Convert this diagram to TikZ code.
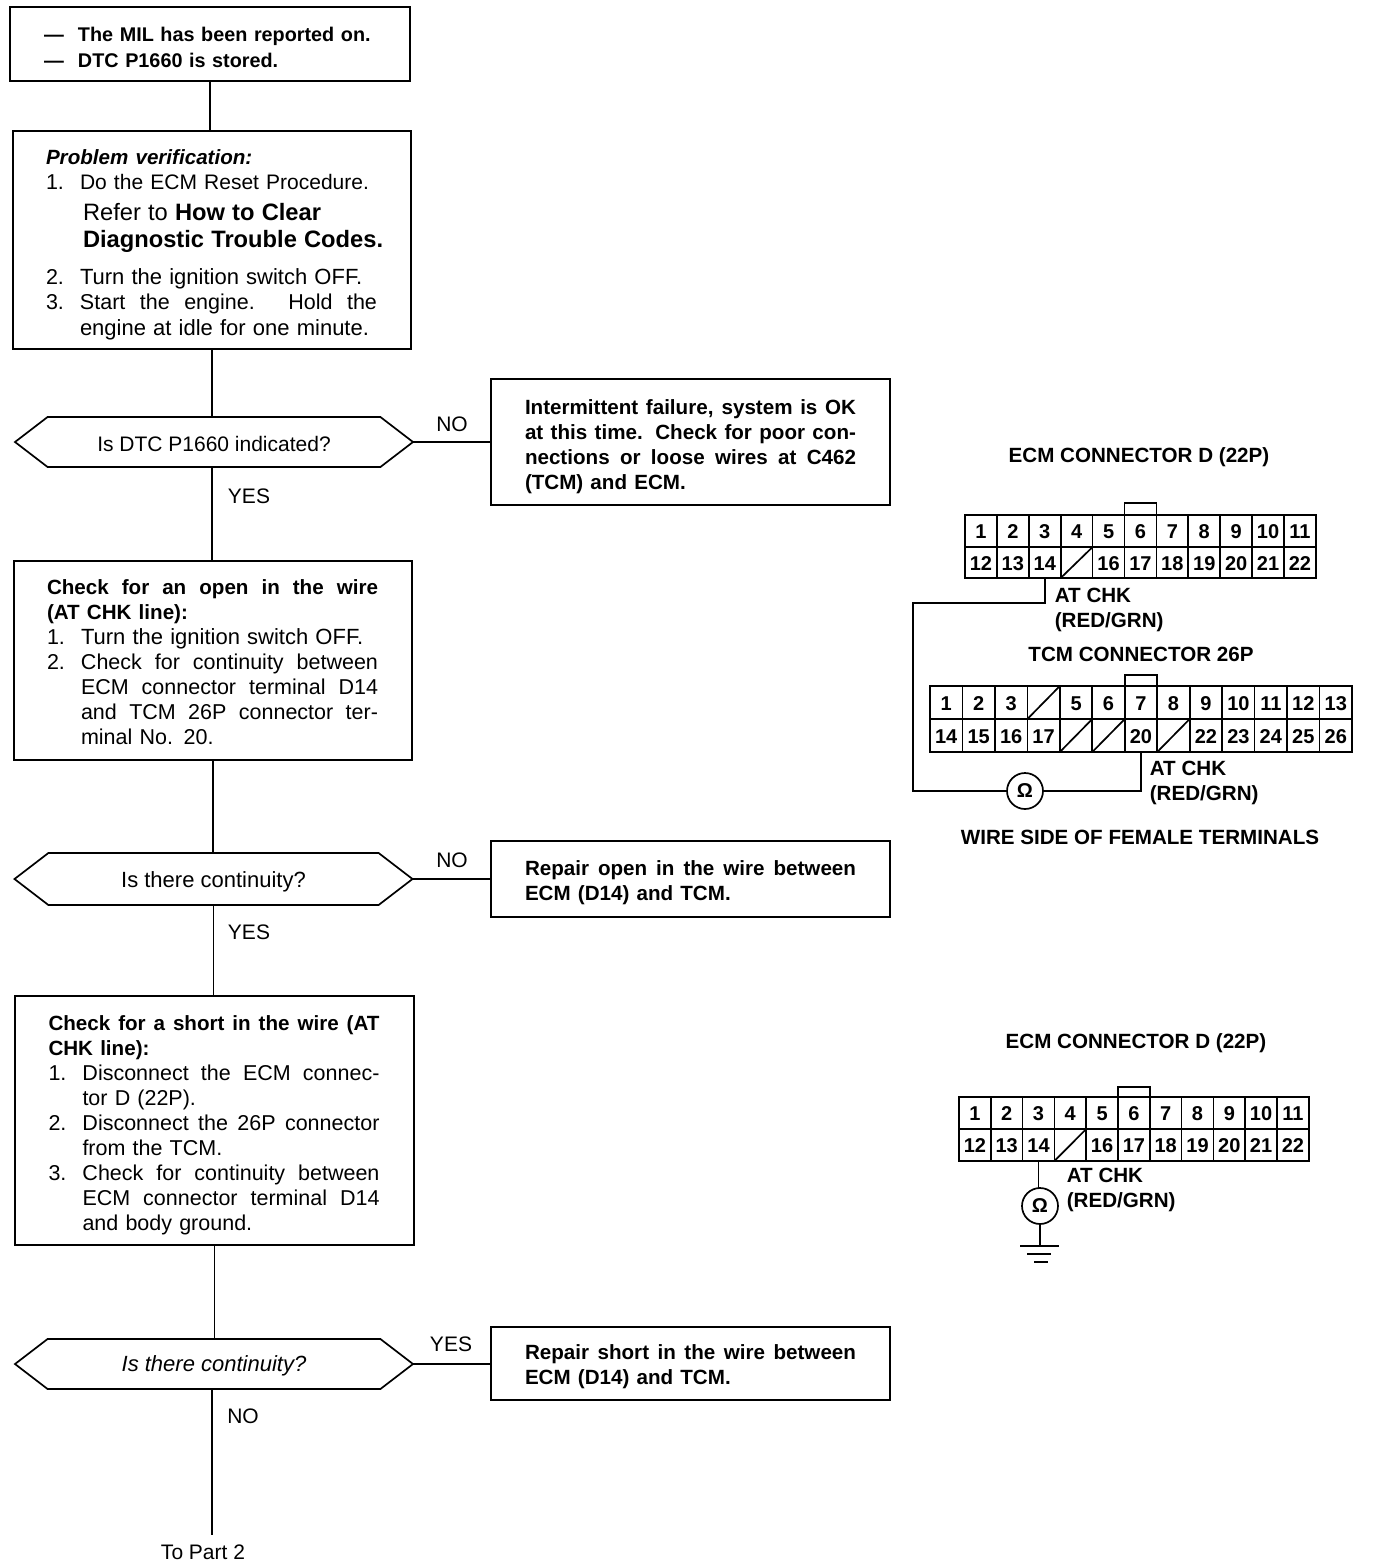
\documentclass[tikz,border=0pt]{standalone}
\usepackage{fontspec}
\setmainfont{Liberation Sans}
\usetikzlibrary{positioning,shapes.symbols}

\newcommand{\stline}[2]{\makebox[#1pt][s]{\spaceskip=0pt\xspaceskip=0pt #2}}
\newcommand{\numline}[1]{\makebox[34pt][l]{#1}}
\newcommand{\topgap}[1]{\rule{0pt}{#1pt}}
\newcommand{\flowbold}{\bfseries\fontsize{20.6}{25}\selectfont}
\newcommand{\flowreg}{\mdseries\fontsize{21.5}{25}\selectfont}
\newcommand{\pinrow}[6]{%
    \foreach \lab [count=\i] in {#6} {
        \node[pincell, minimum width=#4pt, minimum height=#5pt] (#1\i) at ({#2+(\i-0.5)*#4},#3) {\lab};
    }%
}

\tikzset{
    flowbox/.style={draw, rectangle, inner sep=0pt, outer sep=0pt, align=left, font=\fontsize{21.5}{25}\selectfont},
    decision/.style={draw, signal, signal to=east and west, signal pointer angle=75, text height=19.5pt, text depth=4pt,
        inner sep=0pt, outer sep=0pt, minimum width=398pt, minimum height=50pt, font=\fontsize{22}{25}\selectfont},
    flowlabel/.style={inner sep=0pt, font=\fontsize{21}{25}\selectfont},
    pincell/.style={draw, rectangle, inner sep=0pt, outer sep=0pt, text height=15.5pt, text depth=0pt, font=\bfseries\fontsize{20}{20}\selectfont},
    conntitle/.style={inner sep=0pt, font=\bfseries\fontsize{20.6}{25}\selectfont},
    wirelabel/.style={inner sep=0pt, align=left, anchor=west, font=\bfseries\fontsize{20.6}{25}\selectfont},
    meter/.style={draw, circle, inner sep=0pt, outer sep=0pt, minimum size=36pt, font=\bfseries\fontsize{20}{20}\selectfont},
}

\begin{document}
\begin{tikzpicture}[x=1pt, y=-1pt, line width=1.7pt]
    \useasboundingbox (0,0) rectangle (1376,1564);

    \node[flowbox, minimum width=400pt, minimum height=74pt, text width=332pt, font=\bfseries\fontsize{19.8}{26}\selectfont] (mil) at (210,44)
        {\topgap{22}\numline{---}The MIL has been reported on.\\\numline{---}DTC P1660 is stored.};
    \node[flowbox, minimum width=398pt, minimum height=218pt, text width=332pt] (verify) at (212,240)
        {\topgap{25}{\bfseries\itshape\fontsize{20.6}{25}\selectfont Problem verification:}\\
        \numline{1.}{\fontsize{21}{25}\selectfont Do the ECM Reset Procedure.}\\[6pt]
        \numline{}\hspace{3pt}{\fontsize{23.7}{27}\selectfont Refer to \textbf{How to Clear}}\\[2pt]
        \mbox{\numline{}\hspace{3pt}{\fontsize{23.7}{27}\selectfont\textbf{Diagnostic Trouble Codes.}}}\\[12pt]
        \numline{2.}{\fontsize{22}{25}\selectfont Turn the ignition switch OFF.}\\
        \numline{3.}\stline{297}{Start the engine. Hold the}\\[1pt]
        \numline{}{\fontsize{22}{25}\selectfont engine at idle for one minute.}};
    \node[decision, font=\fontsize{21}{25}\selectfont, text height=23pt] (dtcq) at (214,442) {Is DTC P1660 indicated?};
    \node[flowbox, minimum width=399pt, minimum height=126pt, text width=331pt] (intermittent) at (690.5,442)
        {\topgap{24}\flowbold\stline{331}{Intermittent failure, system is OK}\\
        \stline{331}{at this time. Check for poor con-}\\
        \stline{331}{nections or loose wires at C462}\\
        (TCM) and ECM.};
    \node[flowbox, minimum width=398pt, minimum height=199pt, text width=332pt] (openchk) at (213,660.5)
        {\topgap{18}\flowbold\stline{331}{Check for an open in the wire}\\
        (AT CHK line):\\
        \flowreg\numline{1.}{\fontsize{22}{25}\selectfont Turn the ignition switch OFF.}\\
        \numline{2.}\stline{297}{Check for continuity between}\\
        \numline{}\stline{297}{ECM connector terminal D14}\\
        \numline{}\stline{297}{and TCM 26P connector ter-}\\
        \numline{}minal No. 20.};
    \node[decision, minimum height=52pt, text height=21pt] (contq) at (213.5,879) {Is there continuity?};
    \node[flowbox, minimum width=399pt, minimum height=76pt, text width=331pt] (repairopen) at (690.5,879)
        {\topgap{23}\flowbold\stline{331}{Repair open in the wire between}\\ECM (D14) and TCM.};
    \node[flowbox, minimum width=399pt, minimum height=249pt, text width=332pt] (shortchk) at (214.5,1120.5)
        {\topgap{25}\flowbold\stline{331}{Check for a short in the wire (AT}\\
        CHK line):\\
        \flowreg\numline{1.}\stline{297}{Disconnect the ECM connec-}\\
        \numline{}tor D (22P).\\
        \numline{2.}\stline{297}{Disconnect the 26P connector}\\
        \numline{}from the TCM.\\
        \numline{3.}\stline{297}{Check for continuity between}\\
        \numline{}\stline{297}{ECM connector terminal D14}\\
        \numline{}and body ground.};
    \node[decision, font=\itshape\fontsize{22}{25}\selectfont] (shortq) at (214,1364) {Is there continuity?};
    \node[flowbox, minimum width=399pt, minimum height=73pt, text width=331pt] (repairshort) at (690.5,1363.5)
        {\topgap{21}\flowbold\stline{331}{Repair short in the wire between}\\ECM (D14) and TCM.};
    \node[flowlabel] (topart) at (203,1552) {To Part 2};

    \draw (mil.south) -- (mil.south |- verify.north);
    \draw (verify.south) -- (verify.south |- dtcq.north);
    \draw (verify.south |- dtcq.south) -- (verify.south |- openchk.north);
    \draw (openchk.south) -- (openchk.south |- contq.north);
    \draw (contq.south) -- (contq.south |- shortchk.north);
    \draw (shortchk.south) -- (shortchk.south |- shortq.north);
    \coordinate (partend) at (212,1535);
    \draw (partend |- shortq.south) -- (partend);
    \draw (dtcq.east) -- (intermittent.west);
    \draw (contq.east) -- (repairopen.west);
    \draw (shortq.east) -- (shortq.east -| repairshort.west);

    \node[flowlabel] (no1) at (452,424) {NO};
    \node[flowlabel] (yes1) at (249,496) {YES};
    \node[flowlabel] (no2) at (452,860) {NO};
    \node[flowlabel] (yes2) at (249,932) {YES};
    \node[flowlabel] (yes3) at (451,1344) {YES};
    \node[flowlabel] (no3) at (243,1416) {NO};

    \node[conntitle] (ecmtitle) at (1139,457) {ECM CONNECTOR D (22P)};
    \pinrow{ecmt}{965}{531}{31.9}{32}{1,2,3,4,5,6,7,8,9,10,11}
    \pinrow{ecmb}{965}{562.5}{31.9}{31}{12,13,14,,16,17,18,19,20,21,22}
    \node[pincell, minimum width=32pt, minimum height=12pt, text height=0pt, anchor=south] (ecmtab) at (ecmt6.north) {};
    \draw (ecmb4.south west) -- (ecmb4.north east);

    \node[conntitle] (tcmtitle) at (1141,654) {TCM CONNECTOR 26P};
    \pinrow{tcmt}{930}{702.5}{32.46}{33}{1,2,3,,5,6,7,8,9,10,11,12,13}
    \pinrow{tcmb}{930}{735.5}{32.46}{33}{14,15,16,17,,,20,,22,23,24,25,26}
    \node[pincell, minimum width=32pt, minimum height=11pt, text height=0pt, anchor=south] (tcmtab) at (tcmt7.north) {};
    \draw (tcmt4.south west) -- (tcmt4.north east);
    \draw (tcmb5.south west) -- (tcmb5.north east);
    \draw (tcmb6.south west) -- (tcmb6.north east);
    \draw (tcmb8.south west) -- (tcmb8.north east);

    \node[meter] (ohmtop) at (1025,791) {Ω};
    \coordinate (wirecorner) at (913,603);
    \draw (ecmb3.south) |- (wirecorner) |- (ohmtop.west);
    \draw (ohmtop.east) -| (tcmb7.south);
    \node[wirelabel] (chktop) at (1054,610) {AT CHK\\(RED/GRN)};
    \node[wirelabel] (chkmid) at (1149,782.5) {AT CHK\\(RED/GRN)};
    \node[conntitle] (wireside) at (1140,837) {WIRE SIDE OF FEMALE TERMINALS};

    \node[conntitle] (ecmtitle2) at (1136,1043) {ECM CONNECTOR D (22P)};
    \pinrow{gndt}{959}{1113}{31.8}{32}{1,2,3,4,5,6,7,8,9,10,11}
    \pinrow{gndb}{959}{1145}{31.8}{32}{12,13,14,,16,17,18,19,20,21,22}
    \node[pincell, minimum width=32pt, minimum height=10pt, text height=0pt, anchor=south] (gndtab) at (gndt6.north) {};
    \draw (gndb4.south west) -- (gndb4.north east);
    \node[meter] (ohmgnd) at (1040,1206) {Ω};
    \draw (gndb3.south) -- (gndb3.south |- ohmgnd.north);
    \coordinate (gndpt) at (1040,1246);
    \draw (ohmgnd.south) -- (gndpt);
    \draw ([xshift=-20pt] gndpt) -- ([xshift=19pt] gndpt);
    \draw ([xshift=-13pt, yshift=-8pt] gndpt) -- ([xshift=11pt, yshift=-8pt] gndpt);
    \draw ([xshift=-6pt, yshift=-16pt] gndpt) -- ([xshift=8pt, yshift=-16pt] gndpt);
    \node[wirelabel] (chkgnd) at (1066,1190) {AT CHK\\(RED/GRN)};
\end{tikzpicture}
\end{document}
